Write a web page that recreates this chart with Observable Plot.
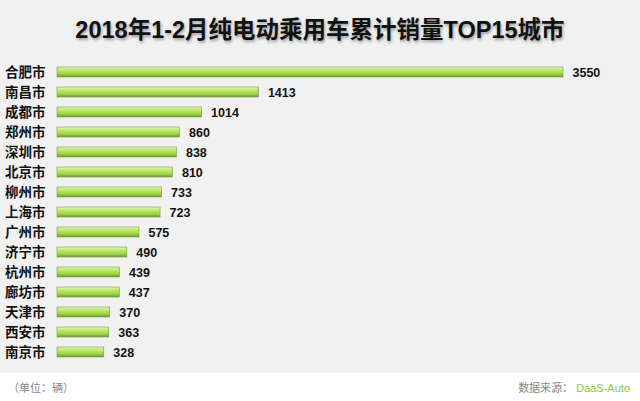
<!DOCTYPE html>
<html><head><meta charset="utf-8">
<script src="https://cdn.jsdelivr.net/npm/d3@7"></script>
<script src="https://cdn.jsdelivr.net/npm/@observablehq/plot@0.6"></script>
<style>
body{margin:0;background:#fff;font-family:"Liberation Sans","Noto Sans CJK SC",sans-serif;}
#wrap{width:640px;height:401px;position:relative;overflow:hidden;}
#top{background:#f1f1f1;width:640px;height:373px;}
#title{height:52px;line-height:60px;text-align:center;font-size:23.5px;font-weight:bold;color:#111;text-shadow:1px 2px 3px rgba(0,0,0,0.35);}
#foot{height:28px;position:relative;font-size:11px;color:#888;}
#unit{position:absolute;left:8px;top:6px;}
#src{position:absolute;right:10px;top:6px;}
#src b{color:#8cc63f;font-weight:normal;}
</style></head>
<body><div id="wrap"><div id="top"><div id="title">2018年1-2月纯电动乘用车累计销量TOP15城市</div><div id="chart"></div></div>
<div id="foot"><span id="unit">（单位：辆）</span><span id="src">数据来源： <b>DaaS-Auto</b></span></div></div>
<script>
const cities = ["合肥市","南昌市","成都市","郑州市","深圳市","北京市","柳州市","上海市","广州市","济宁市","杭州市","廊坊市","天津市","西安市","南京市"];
const sales = [3550,1413,1014,860,838,810,733,723,575,490,439,437,370,363,328];
const data = cities.map((c,i)=>({city:c, value:sales[i]}));

const defs = () => {
  const ns = "http://www.w3.org/2000/svg";
  const g = document.createElementNS(ns,"g");
  g.innerHTML = `<defs><linearGradient id="barg" x1="0" y1="0" x2="0" y2="1">
    <stop offset="0" stop-color="#e6f8b4"/>
    <stop offset="0.3" stop-color="#c0e872"/>
    <stop offset="0.7" stop-color="#9ed444"/>
    <stop offset="1" stop-color="#66992a"/>
  </linearGradient></defs>`;
  return g;
};

const chart = Plot.plot({
  width: 640,
  height: 321,
  marginTop: 2.5,
  marginBottom: 4.3,
  marginLeft: 57,
  marginRight: 77,
  style: {background: "transparent", fontFamily: "'Liberation Sans','Noto Sans CJK SC',sans-serif", overflow: "visible"},
  x: {domain: [0, 3550], axis: null},
  y: {domain: cities, padding: 0.5, label: null},
  marks: [
    defs,
    Plot.barX(data, {x: "value", y: "city", fill: "url(#barg)", stroke: "#7a9a50", strokeWidth: 0.6}),
    Plot.text(data, {x: "value", y: "city", text: d => String(d.value), textAnchor: "start", dx: 9, fontSize: 12.5, fontWeight: "bold", fill: "#111"}),
    Plot.axisY({tickSize: 0, tickPadding: 12, fontSize: 13.5, fontWeight: "bold", fill: "#111", label: null})
  ]
});
document.getElementById("chart").appendChild(chart);
</script></body></html>
